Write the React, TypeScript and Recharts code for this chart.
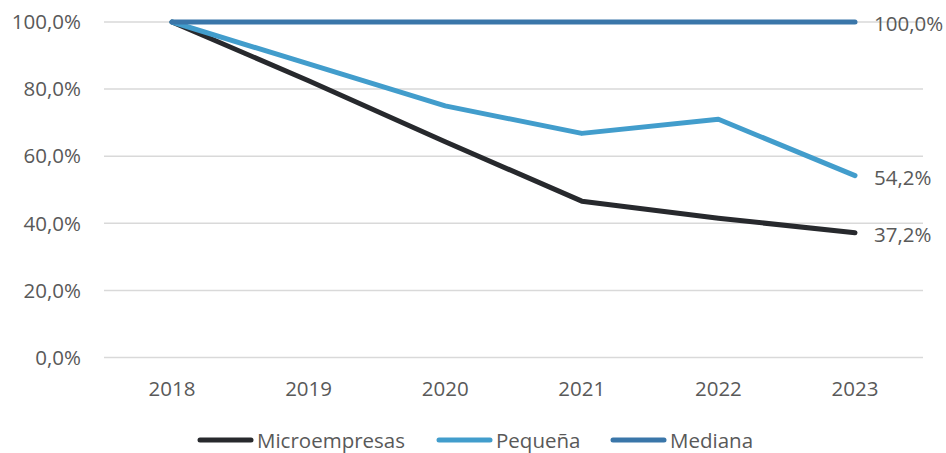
import React from 'react';
import { LineChart, Line, XAxis, YAxis, CartesianGrid, Legend, LabelList } from 'recharts';

const years = ['2018', '2019', '2020', '2021', '2022', '2023'];
const microempresas = [100, 82.5, 64.3, 46.6, 41.5, 37.2];
const pequena = [100, 87.5, 75.0, 66.8, 71.0, 54.2];
const mediana = [100, 100, 100, 100, 100, 100];
const yTicks = [0, 20, 40, 60, 80, 100];

const seriesInfo = [
  { key: 'micro', name: 'Microempresas', color: '#27292d' },
  { key: 'peq', name: 'Pequeña', color: '#429dcc' },
  { key: 'med', name: 'Mediana', color: '#3a76a9' },
];

const data = years.map((y, i) => ({
  year: y,
  micro: microempresas[i],
  peq: pequena[i],
  med: mediana[i],
}));

const fmt = (v: number) => v.toFixed(1).replace('.', ',') + '%';
const TEXT = '#595959';
const FONT = '"Open Sans", sans-serif';
const FS = 20.5;

const EndLabel = (props: any) => {
  const { x, y, value, index } = props;
  if (index !== years.length - 1) return null;
  return (
    <text x={x + 19} y={y + 1} fill={TEXT} fontSize={FS} fontFamily={FONT} textAnchor="start" dominantBaseline="central">
      {fmt(value)}
    </text>
  );
};

const LegendContent = () => {
  const items = [
    { x: 198, ...seriesInfo[0] },
    { x: 437, ...seriesInfo[1] },
    { x: 611, ...seriesInfo[2] },
  ];
  return (
    <svg width={946} height={40} style={{ display: 'block' }}>
      {items.map((it) => (
        <g key={it.key}>
          <line x1={it.x + 2} x2={it.x + 53} y1={27} y2={27} stroke={it.color} strokeWidth={5} strokeLinecap="round" />
          <text x={it.x + 59} y={27} fill={TEXT} fontSize={FS} fontFamily={FONT} dominantBaseline="central">
            {it.name}
          </text>
        </g>
      ))}
    </svg>
  );
};

export default function App() {
  return (
    <div style={{ position: 'absolute', left: 0, top: 0, width: 946, height: 453, background: '#fff' }}>
      <LineChart width={946} height={453} data={data} margin={{ top: 22, right: 23, bottom: 0, left: 0 }} style={{ fontFamily: FONT }}>
        <CartesianGrid vertical={false} stroke="#d9d9d9" strokeWidth={1.5} />
        <XAxis
          dataKey="year"
          axisLine={false}
          tickLine={false}
          height={55.5}
          tickMargin={18}
          padding={{ left: 68, right: 68 }}
          tick={{ fill: TEXT, fontSize: FS, fontFamily: FONT }}
        />
        <YAxis
          domain={[0, 100]}
          ticks={yTicks}
          width={104}
          axisLine={false}
          tickLine={false}
          tickMargin={17}
          tickFormatter={fmt}
          tick={{ fill: TEXT, fontSize: FS, fontFamily: FONT }}
        />
        <Legend verticalAlign="bottom" height={40} content={<LegendContent />} wrapperStyle={{ left: 0, width: 946 }} />
        {seriesInfo.map((s) => (
          <Line
            key={s.key}
            type="linear"
            dataKey={s.key}
            name={s.name}
            stroke={s.color}
            strokeWidth={5}
            strokeLinecap="round"
            strokeLinejoin="round"
            dot={false}
            activeDot={false}
            isAnimationActive={false}
          >
            <LabelList dataKey={s.key} content={<EndLabel />} />
          </Line>
        ))}
      </LineChart>
    </div>
  );
}
